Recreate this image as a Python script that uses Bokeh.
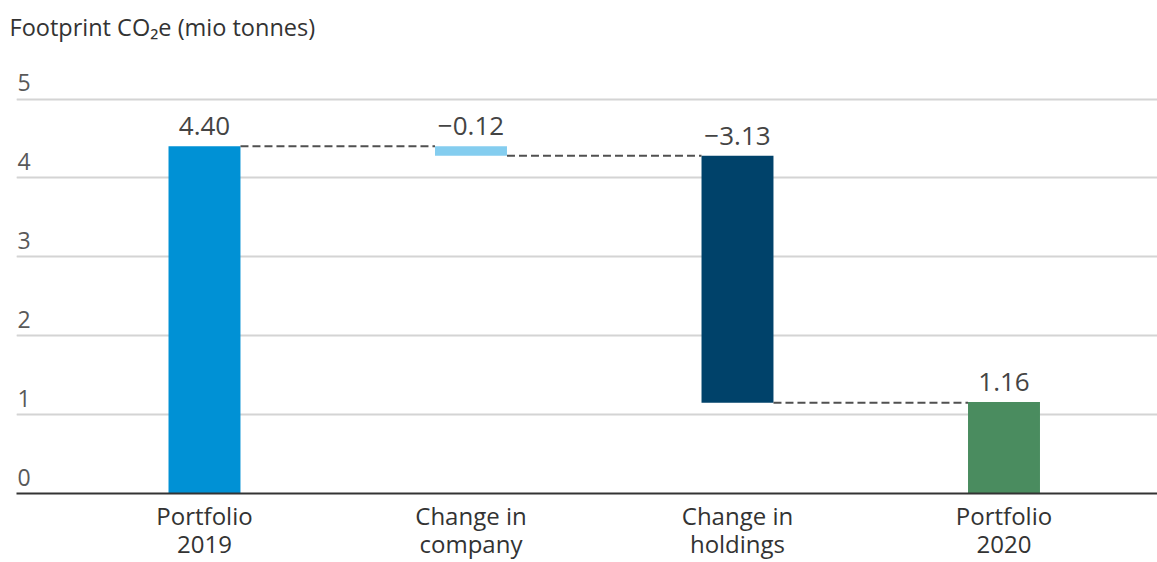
from bokeh.plotting import figure
from bokeh.models import ColumnDataSource, FixedTicker, Grid, Range1d, LabelSet
from bokeh.core.properties import value
from bokeh.embed import file_html
from bokeh.resources import INLINE

# ---- data ----
categories = ["Portfolio\n2019", "Change in\ncompany", "Change in\nholdings", "Portfolio\n2020"]
values = [4.40, -0.12, -3.13, 1.16]
kinds = ["total", "delta", "delta", "total"]
value_labels = ["4.40", "\u22120.12", "\u22123.13", "1.16"]
colors = ["#0091d5", "#84cdef", "#00426a", "#4a8c5f"]
y_ticks = [0, 1, 2, 3, 4, 5]
y_tick_labels = ["0", "1", "2", "3", "4", "5"]
title_text = "Footprint CO\u2082e (mio tonnes)"

FONT = "Open Sans"

# ---- waterfall geometry from data ----
xs = list(range(len(categories)))
bottoms, tops, levels = [], [], []
running = 0.0
for v, k in zip(values, kinds):
    if k == "total":
        b, t = 0.0, v
        running = v
    else:
        t = running
        b = running + v
        running = running + v
    bottoms.append(b)
    tops.append(t)
    levels.append(running)

bar_w = 0.27
x_start, x_end = -0.7054, 3.576
y_start, y_end = 0.0, 5.615

p = figure(width=1157, height=562, output_backend="svg", toolbar_location=None,
           x_range=Range1d(x_start, x_end), y_range=Range1d(y_start, y_end),
           y_axis_location=None, min_border_left=16, min_border_right=0,
           min_border_bottom=0, min_border_top=50)
p.outline_line_color = None
p.background_fill_color = "white"
p.border_fill_color = "white"

# title
p.title.text = title_text
p.title.text_font = FONT
p.title.text_font_size = "23.5px"
p.title.text_font_style = "normal"
p.title.text_color = "#333333"
p.title.align = "left"
p.title.offset = -7
p.title.standoff = 16

# grids
p.xgrid.visible = False
ygrid = Grid(dimension=1, ticker=FixedTicker(ticks=y_ticks),
             grid_line_color="#d4d4d4", grid_line_width=2)
p.add_layout(ygrid)

# x axis
p.xaxis.ticker = FixedTicker(ticks=xs)
p.xaxis.major_label_overrides = {i: c for i, c in zip(xs, categories)}
p.xaxis.major_tick_line_color = None
p.xaxis.minor_tick_line_color = None
p.xaxis.major_tick_out = 0
p.xaxis.major_tick_in = 0
p.xaxis.axis_line_color = "#333333"
p.xaxis.axis_line_width = 2
p.xaxis.major_label_text_font = FONT
p.xaxis.major_label_text_font_size = "24px"
p.xaxis.major_label_text_color = "#333333"
p.xaxis.major_label_text_line_height = 0.85
p.xaxis.major_label_standoff = 5

# bars
src = ColumnDataSource(dict(x=xs, bottom=bottoms, top=tops, color=colors,
                            label=value_labels))
p.vbar(x="x", bottom="bottom", top="top", width=bar_w, color="color",
       line_color=None, source=src)

# connectors
cx0 = [x + bar_w / 2 for x in xs[:-1]]
cx1 = [x - bar_w / 2 for x in xs[1:]]
p.segment(x0=cx0, y0=levels[:-1], x1=cx1, y1=levels[:-1],
          line_color="#505050", line_width=2, line_dash="8 4")

# value labels
p.add_layout(LabelSet(x="x", y="top", text="label", source=src,
                      text_align="center", text_baseline="alphabetic",
                      y_offset=11, text_font=value(FONT), text_font_size="26px",
                      text_color="#444444"))

# y tick labels
tsrc = ColumnDataSource(dict(x=[x_start] * len(y_ticks), y=y_ticks,
                             text=y_tick_labels))
p.add_layout(LabelSet(x="x", y="y", text="text", source=tsrc,
                      text_align="left", text_baseline="alphabetic",
                      x_offset=1, y_offset=8, text_font=value(FONT),
                      text_font_size="23px", text_color="#595959"))

open("out.html", "w").write(file_html(p, INLINE))
